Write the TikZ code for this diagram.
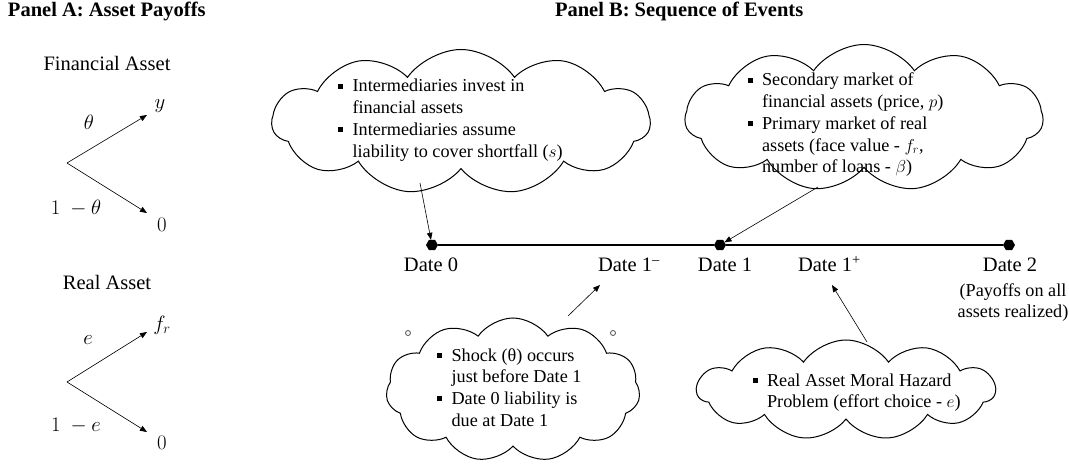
\documentclass[tikz,border=0pt]{standalone}
\usepackage{fontspec}
\setmainfont{Liberation Serif}
\usetikzlibrary{shapes.symbols,shapes.geometric,arrows.meta}
\newcommand{\bul}{\raisebox{0.18em}{\rule{0.28em}{0.28em}}}
\begin{document}
\begin{tikzpicture}[x=1pt,y=-1pt,
  every node/.style={inner sep=0pt, outer sep=0pt},
  cloudbox/.style={cloud, draw, cloud puffs=11, cloud puff arc=110, line width=1pt},
  big/.style={font=\fontsize{20.5pt}{24pt}\selectfont},
  mth/.style={font=\fontsize{22pt}{24pt}\selectfont},
  small/.style={font=\fontsize{18.2pt}{21.7pt}\selectfont},
  conn/.style={-{Triangle[length=7pt,width=5.5pt]}, line width=0.6pt},
  datedot/.style={regular polygon, regular polygon sides=6, fill=black, minimum size=12pt},
  tline/.style={line width=1.8pt},
  tinyc/.style={circle, draw=gray!60!black, fill=white, minimum size=5pt, line width=0.8pt},
  txt/.style={small, anchor=base west},
]
\useasboundingbox (0,0) rectangle (1069,465);

% Panel A
\node[big, anchor=base west] (pa) at (8,17) {\textbf{Panel A: Asset Payoffs}};
\node[big] (fa) at (107,63) {Financial Asset};
\coordinate (r1) at (67,163);
\coordinate (u1) at (147,115);
\coordinate (l1) at (147,213);
\draw[conn] (r1) -- (u1);
\draw[conn] (r1) -- (l1);
\node[mth] (th1) at (89,122) {$\theta$};
\node[mth] (y1) at (160,106) {$y$};
\node[mth] (om1) at (76,208) {$1\ -\theta$};
\node[mth] (z1) at (162,225) {$0$};

\node[big] (ra) at (107,282) {Real Asset};
\coordinate (r2) at (67,382);
\coordinate (u2) at (147,332);
\coordinate (l2) at (147,432);
\draw[conn] (r2) -- (u2);
\draw[conn] (r2) -- (l2);
\node[mth] (e1) at (88,340) {$e$};
\node[mth] (fr) at (162,325) {$f_r$};
\node[mth] (om2) at (76,426) {$1\ -e$};
\node[mth] (z2) at (162,443) {$0$};

% Panel B
\node[big, anchor=base west] (pb) at (555,17) {\textbf{Panel B: Sequence of Events}};

% clouds
\node[cloudbox, minimum width=378pt, minimum height=145pt] (cl1) at (461,122) {};
\node[cloudbox, minimum width=358pt, minimum height=147pt] (cl2) at (864,118) {};
\node[cloudbox, minimum width=254pt, minimum height=144pt] (cl3) at (513,390) {};
\node[cloudbox, minimum width=298pt, minimum height=100pt] (cl4) at (846,390) {};

\node[tinyc] (b1) at (408,333) {};
\node[tinyc] (b2) at (613,333) {};

\node[txt] (t1) at (338,92) {\begin{tabular}[t]{@{}l@{\hspace{9.5pt}}l@{}}
\bul & Intermediaries invest in\\
 & financial assets\\
\bul & Intermediaries assume\\
 & liability to cover shortfall ($s$)
\end{tabular}};

\node[txt] (t2) at (748,86) {\begin{tabular}[t]{@{}l@{\hspace{9pt}}l@{}}
\bul & Secondary market of\\
 & financial assets (price, $p$)\\
\bul & Primary market of real\\
 & assets (face value - $f_r$,\\
 & number of loans - $\beta$)
\end{tabular}};

\node[txt] (t3) at (437,361) {\begin{tabular}[t]{@{}l@{\hspace{9.5pt}}l@{}}
\bul & Shock (θ) occurs\\
 & just before Date 1\\
\bul & Date 0 liability is\\
 & due at Date 1
\end{tabular}};

\node[txt] (t4) at (753,386) {\begin{tabular}[t]{@{}l@{\hspace{9pt}}l@{}}
\bul & Real Asset Moral Hazard\\
 & Problem (effort choice - $e$)
\end{tabular}};

% timeline
\node[datedot] (d0) at (432,245) {};
\node[datedot] (d1) at (720,245) {};
\node[datedot] (d2) at (1009,245) {};
\draw[tline] (d0) -- (d1);
\draw[tline] (d1) -- (d2);

\node[big, anchor=base] (ld0) at (431,272) {Date 0};
\node[big, anchor=base west] (ld1m) at (598,272) {Date 1\textsuperscript{–}};
\node[big, anchor=base] (ld1) at (725,272) {Date 1};
\node[big, anchor=base west] (ld1p) at (798,272) {Date 1\textsuperscript{+}};
\node[big, anchor=base] (ld2) at (1010,272) {Date 2};
\node[small, anchor=base] (pay1) at (1013,297) {(Payoffs on all};
\node[small, anchor=base] (pay2) at (1013,317) {assets realized)};

% connectors
\coordinate (c1t) at (420,183);
\coordinate (c2t) at (818,187);
\coordinate (c3t) at (568,316);
\coordinate (p3) at (600,285);
\coordinate (c4t) at (867,342);
\coordinate (p4) at (832,285);
\draw[conn] (c1t) -- (d0);
\draw[conn] (c2t) -- (d1);
\draw[conn] (c3t) -- (p3);
\draw[conn] (c4t) -- (p4);
\end{tikzpicture}
\end{document}
